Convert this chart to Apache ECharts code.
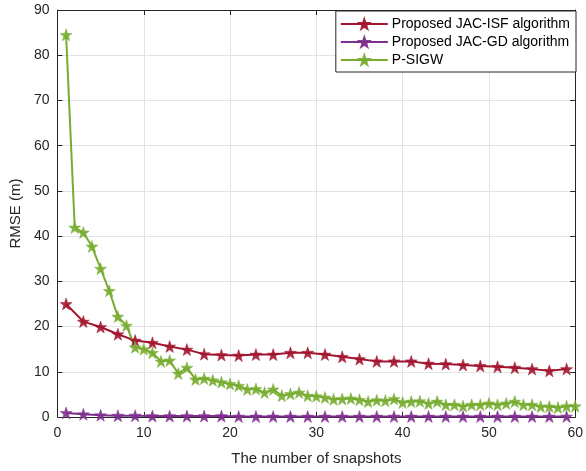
<!DOCTYPE html>
<html>
<head>
<meta charset="utf-8">
<script src="https://cdn.jsdelivr.net/npm/echarts@6/dist/echarts.min.js"></script>
<style>
  html, body { margin: 0; padding: 0; background: #fff; }
  #main { width: 586px; height: 471px; }
</style>
</head>
<body>
<div id="main"></div>
<script>
// 数据
var xOdd = [1, 3, 5, 7, 9, 11, 13, 15, 17, 19, 21, 23, 25, 27, 29, 31, 33, 35, 37, 39,
            41, 43, 45, 47, 49, 51, 53, 55, 57, 59];
var xAll = [1, 2, 3, 4, 5, 6, 7, 8, 9, 10, 11, 12, 13, 14, 15, 16, 17, 18, 19, 20,
            21, 22, 23, 24, 25, 26, 27, 28, 29, 30, 31, 32, 33, 34, 35, 36, 37, 38, 39, 40,
            41, 42, 43, 44, 45, 46, 47, 48, 49, 50, 51, 52, 53, 54, 55, 56, 57, 58, 59, 60];
var isfValues = [25.0, 21.1, 19.9, 18.3, 16.9, 16.4, 15.6, 14.9, 13.9, 13.7, 13.6, 13.8, 13.8, 14.2, 14.2,
                 13.8, 13.3, 12.8, 12.3, 12.3, 12.3, 11.8, 11.7, 11.5, 11.3, 11.1, 10.9, 10.6, 10.2, 10.6];
var gdValues = [0.9, 0.6, 0.4, 0.3, 0.3, 0.2, 0.2, 0.2, 0.2, 0.2, 0.1, 0.1, 0.1, 0.1, 0.1,
                0.1, 0.1, 0.1, 0.1, 0.1, 0.1, 0.1, 0.1, 0.1, 0.1, 0.1, 0.1, 0.1, 0.1, 0.1];
var sigwValues = [84.5, 41.9, 40.8, 37.7, 32.8, 27.9, 22.2, 20.2, 15.4, 15.0,
                  14.2, 12.3, 12.5, 9.6, 10.9, 8.3, 8.5, 8.1, 7.7, 7.3,
                  6.9, 6.1, 6.2, 5.4, 6.1, 4.7, 5.1, 5.4, 4.7, 4.6,
                  4.3, 3.9, 4.0, 4.1, 3.8, 3.4, 3.7, 3.6, 4.0, 3.2,
                  3.4, 3.5, 3.0, 3.4, 2.7, 2.7, 2.4, 2.7, 2.7, 3.0,
                  2.7, 3.0, 3.4, 2.7, 2.7, 2.3, 2.3, 2.1, 2.4, 2.4];
var seriesNames = ['Proposed JAC-ISF algorithm', 'Proposed JAC-GD algorithm', 'P-SIGW'];
var seriesColors = ['#A2142F', '#7E2F8E', '#77AC30'];

var star = 'path://M0,-10 L2.35,-3.24 L9.51,-3.09 L3.8,1.24 L5.88,8.09 L0,4 L-5.88,8.09 L-3.8,1.24 L-9.51,-3.09 L-2.35,-3.24 Z';
var axisColor = '#262626';
var font = 'Liberation Sans, Arial, sans-serif';

function pairs(xs, ys) {
    return xs.map(function (x, i) { return [x, ys[i]]; });
}

function makeSeries(name, color, data) {
    return {
        name: name,
        type: 'line',
        data: data,
        symbol: star,
        symbolSize: 12,
        showAllSymbol: true,
        lineStyle: { color: color, width: 2 },
        itemStyle: { color: color, borderColor: color, borderWidth: 0.5, opacity: 0.9 },
        emphasis: { disabled: true },
        z: 3
    };
}

var myChart = echarts.init(document.getElementById('main'));
var option = {
    animation: false,
    backgroundColor: '#fff',
    grid: { left: 57, right: 9, top: 10, bottom: 51 },
    legend: {
        orient: 'vertical',
        right: 10,
        top: 11,
        itemWidth: 47,
        itemHeight: 12,
        itemGap: 4,
        padding: [6, 6, 5, 4],
        backgroundColor: '#fff',
        borderColor: axisColor,
        borderWidth: 1,
        textStyle: { fontFamily: font, fontSize: 14, color: '#000', padding: [0, 0, 0, -1] },
        data: seriesNames
    },
    xAxis: [{
        type: 'value',
        min: 0, max: 60, interval: 10,
        name: 'The number of snapshots',
        nameLocation: 'middle',
        nameGap: 34,
        nameTextStyle: { fontFamily: font, fontSize: 15, color: axisColor },
        axisLine: { show: true, onZero: false, lineStyle: { color: axisColor } },
        axisTick: { inside: true, length: 5, lineStyle: { color: axisColor } },
        axisLabel: { fontFamily: font, fontSize: 14, color: axisColor, margin: 9 },
        splitLine: { show: true, lineStyle: { color: '#e3e3e3' } }
    }, {
        type: 'value', position: 'top',
        min: 0, max: 60, interval: 10,
        axisLine: { show: true, onZero: false, lineStyle: { color: axisColor } },
        axisTick: { inside: true, length: 5, lineStyle: { color: axisColor } },
        axisLabel: { show: false },
        splitLine: { show: false }
    }],
    yAxis: [{
        type: 'value',
        min: 0, max: 90, interval: 10,
        name: 'RMSE (m)',
        nameLocation: 'middle',
        nameGap: 33,
        nameTextStyle: { fontFamily: font, fontSize: 15, color: axisColor },
        axisLine: { show: true, onZero: false, lineStyle: { color: axisColor } },
        axisTick: { inside: true, length: 5, lineStyle: { color: axisColor } },
        axisLabel: { fontFamily: font, fontSize: 14, color: axisColor, margin: 8 },
        splitLine: { show: true, lineStyle: { color: '#e3e3e3' } }
    }, {
        type: 'value', position: 'right',
        min: 0, max: 90, interval: 10,
        axisLine: { show: true, onZero: false, lineStyle: { color: axisColor } },
        axisTick: { inside: true, length: 5, lineStyle: { color: axisColor } },
        axisLabel: { show: false },
        splitLine: { show: false }
    }],
    series: [
        makeSeries(seriesNames[0], seriesColors[0], pairs(xOdd, isfValues)),
        makeSeries(seriesNames[1], seriesColors[1], pairs(xOdd, gdValues)),
        makeSeries(seriesNames[2], seriesColors[2], pairs(xAll, sigwValues))
    ]
};
myChart.setOption(option);
</script>
</body>
</html>
